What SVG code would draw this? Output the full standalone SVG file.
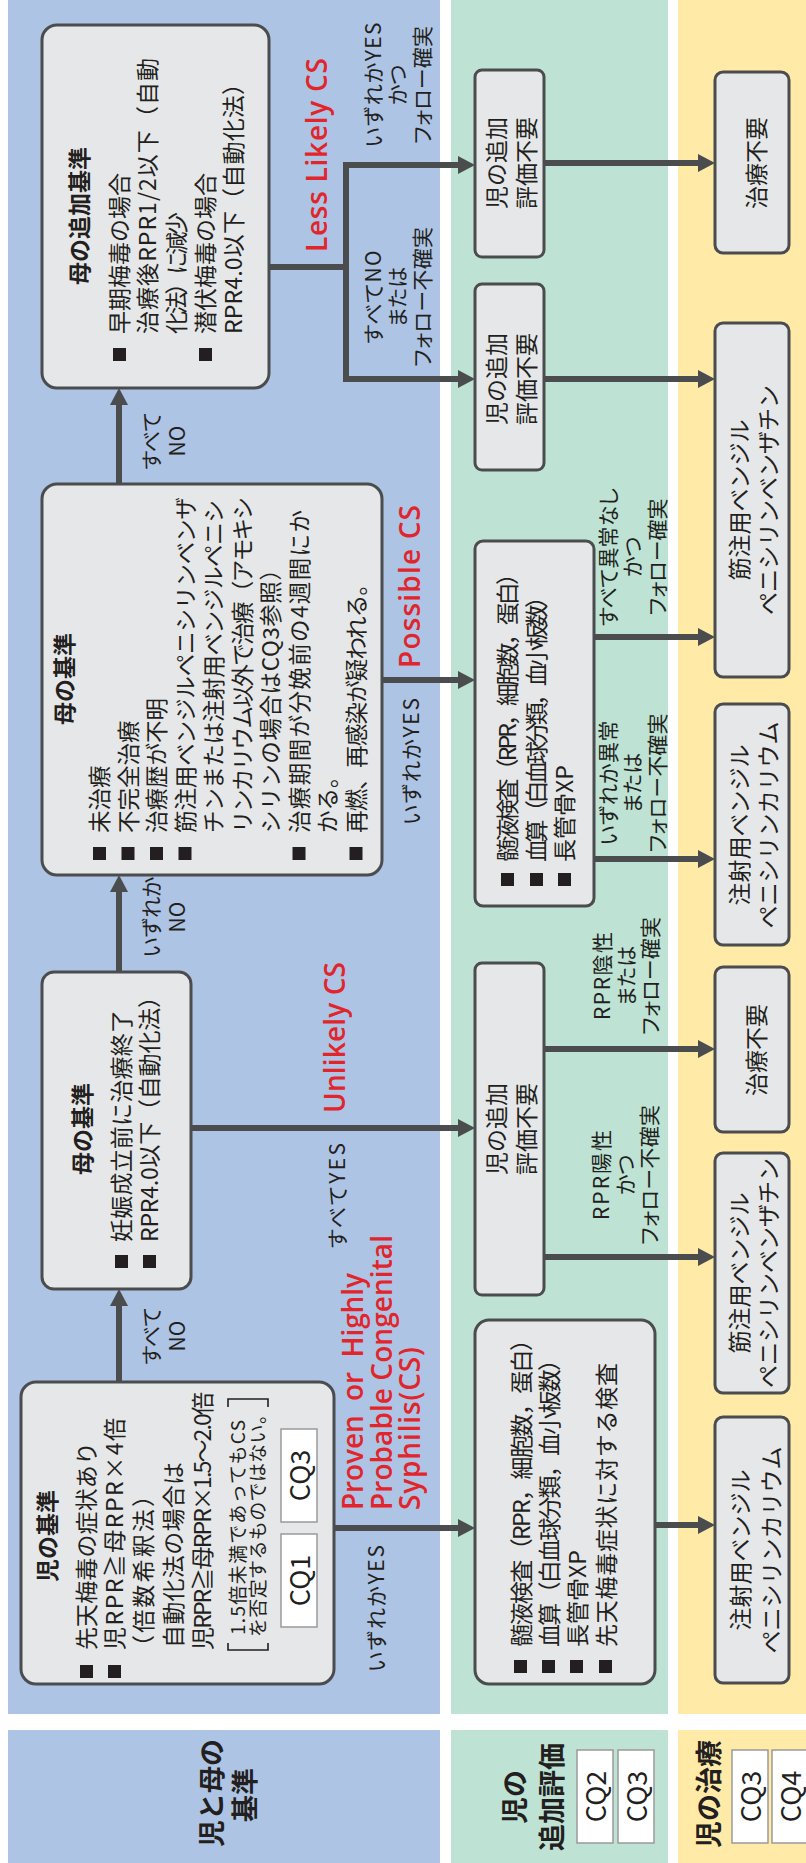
<svg xmlns="http://www.w3.org/2000/svg" width="806" height="1863" viewBox="0 0 806 1863">
<style>
.t{font-family:"Noto Sans CJK JP","Noto Sans CJK SC",sans-serif;fill:#231f20;font-size:23px}
.s22{font-size:22.5px}
.b{font-weight:700}
.m{text-anchor:middle}
.e{text-anchor:end}
.lb{font-size:21px;font-feature-settings:"palt"}
.sm{font-size:19px}
.cqt{font-family:"Noto Sans CJK JP",sans-serif;font-size:27px;fill:#231f20;text-anchor:middle}
.hd{font-size:27px;font-weight:700}
.red{font-family:"Open Sans","Noto Sans",sans-serif;font-weight:600;fill:#e0262c;font-size:28px}
.node{fill:#e6e7e8;stroke:#4b4c4e;stroke-width:3}
.cq{fill:#fff;stroke:#9a9a9a;stroke-width:1.5}
.conn{stroke:#4b4c4e;stroke-width:6;fill:none}
.bul{fill:#231f20}
.brk{fill:none;stroke:#231f20;stroke-width:1.6}
</style>
<defs>
<marker id="ah" markerUnits="userSpaceOnUse" markerWidth="18" markerHeight="18" refX="7" refY="9" orient="auto-start-reverse">
<path d="M0,0 L17,9 L0,18 Z" fill="#4b4c4e"/>
</marker>
</defs>
<g id="diagram" transform="translate(0,1863) rotate(-90)">
<g id="bands">
<rect x="149" y="8" width="1714" height="432" fill="#aec4e4"/>
<rect x="149" y="451" width="1714" height="217" fill="#bee2d4"/>
<rect x="149" y="678" width="1714" height="128" fill="#ffeba7"/>
<rect x="0" y="8" width="133" height="432" fill="#aec4e4"/>
<rect x="0" y="451" width="133" height="217" fill="#bee2d4"/>
<rect x="0" y="678" width="133" height="128" fill="#ffeba7"/>
</g>
<g id="headers">
<text class="t hd m" x="70" y="222">児と母の</text>
<text class="t hd m" x="68" y="255">基準</text>
<text class="t hd m" x="66" y="525">児の</text>
<text class="t hd m" x="66" y="562">追加評価</text>
<rect class="cq" x="20" y="577" width="93" height="36"/>
<text class="cqt" x="66.5" y="606">CQ2</text>
<rect class="cq" x="20" y="618" width="93" height="36"/>
<text class="cqt" x="66.5" y="647">CQ3</text>
<text class="t hd m" x="69" y="719">児の治療</text>
<rect class="cq" x="20" y="732" width="93" height="36"/>
<text class="cqt" x="66.5" y="761">CQ3</text>
<rect class="cq" x="20" y="772" width="93" height="36"/>
<text class="cqt" x="66.5" y="801">CQ4</text>
</g>
<g id="connectors">
<path class="conn" d="M481,119 H564" marker-end="url(#ah)"/>
<path class="conn" d="M891,119 H978" marker-end="url(#ah)"/>
<path class="conn" d="M1379,119 H1465" marker-end="url(#ah)"/>
<path class="conn" d="M1596,269 V346"/>
<path class="conn" d="M1698,465 V346 H1484 V465" marker-start="url(#ah)" marker-end="url(#ah)"/>
<path class="conn" d="M1700,544 V705" marker-end="url(#ah)"/>
<path class="conn" d="M1484,544 V705" marker-end="url(#ah)"/>
<path class="conn" d="M1183,382 V465" marker-end="url(#ah)"/>
<path class="conn" d="M1226,594 V705" marker-end="url(#ah)"/>
<path class="conn" d="M1004,594 V705" marker-end="url(#ah)"/>
<path class="conn" d="M735,191 V465" marker-end="url(#ah)"/>
<path class="conn" d="M814,544 V705" marker-end="url(#ah)"/>
<path class="conn" d="M606,544 V705" marker-end="url(#ah)"/>
<path class="conn" d="M335,334 V465" marker-end="url(#ah)"/>
<path class="conn" d="M338,655 V705" marker-end="url(#ah)"/>
</g>
<g id="labels">
<text class="t lb m" x="1422" y="159">すべて</text>
<text class="t lb m" x="1422" y="185">NO</text>
<text class="t lb m" x="946" y="159">いずれか</text>
<text class="t lb m" x="946" y="185">NO</text>
<text class="t lb m" x="527" y="159">すべて</text>
<text class="t lb m" x="527" y="185">NO</text>
<text class="t lb m" x="1778" y="381" textLength="125">いずれかYES</text>
<text class="t lb m" x="1778" y="405">かつ</text>
<text class="t lb m" x="1778" y="430" textLength="118">フォロー確実</text>
<text class="t lb m" x="1566" y="381" textLength="93">すべてNO</text>
<text class="t lb m" x="1566" y="405">または</text>
<text class="t lb m" x="1566" y="430" textLength="140">フォロー不確実</text>
<text class="t lb e" x="1165" y="419" textLength="127">いずれかYES</text>
<text class="t lb e" x="720" y="345" textLength="105">すべてYES</text>
<text class="t lb e" x="318" y="384" textLength="127">いずれかYES</text>
<text class="t lb m" x="1306" y="616" textLength="138">すべて異常なし</text>
<text class="t lb m" x="1306" y="640">かつ</text>
<text class="t lb m" x="1306" y="665" textLength="117">フォロー確実</text>
<text class="t lb m" x="1080" y="616" textLength="125">いずれか異常</text>
<text class="t lb m" x="1080" y="640">または</text>
<text class="t lb m" x="1080" y="665" textLength="139">フォロー不確実</text>
<text class="t lb m" x="887" y="610" textLength="88">RPR陰性</text>
<text class="t lb m" x="887" y="634">または</text>
<text class="t lb m" x="887" y="658" textLength="118">フォロー確実</text>
<text class="t lb m" x="688" y="609" textLength="90">RPR陽性</text>
<text class="t lb m" x="688" y="633">かつ</text>
<text class="t lb m" x="688" y="657" textLength="140">フォロー不確実</text>
<text class="red" x="1611" y="327" textLength="194">Less Likely CS</text>
<text class="red" x="1195" y="420" textLength="163">Possible CS</text>
<text class="red" x="750" y="345" textLength="151">Unlikely CS</text>
<text class="red" x="353" y="363" textLength="237" xml:space="preserve">Proven  or  Highly</text>
<text class="red" x="353" y="392" textLength="275">Probable Congenital</text>
<text class="red" x="353" y="420" textLength="163">Syphilis(CS)</text>
</g>
<g id="node-A">
<rect class="node" x="1475" y="42" width="363" height="227" rx="15"/>
<text class="t b m" x="1647" y="88">母の追加基準</text>
<rect class="bul" x="1502" y="113" width="13" height="13"/>
<text class="t" x="1529" y="128">早期梅毒の場合</text>
<text class="t" x="1529" y="156" textLength="276">治療後RPR1/2以下（自動</text>
<text class="t" x="1529" y="185" textLength="122">化法）に減少</text>
<rect class="bul" x="1502" y="199" width="13" height="13"/>
<text class="t" x="1529" y="214">潜伏梅毒の場合</text>
<text class="t" x="1529" y="242" textLength="262">RPR4.0以下（自動化法）</text>
</g>
<g id="node-B">
<rect class="node" x="988" y="42" width="391" height="340" rx="15"/>
<text class="t b m" x="1184" y="73">母の基準</text>
<rect class="bul" x="1003" y="93" width="13" height="13"/>
<text class="t s22" x="1030" y="108">未治療</text>
<rect class="bul" x="1003" y="121.5" width="13" height="13"/>
<text class="t s22" x="1030" y="136.5">不完全治療</text>
<rect class="bul" x="1003" y="150" width="13" height="13"/>
<text class="t s22" x="1030" y="165">治療歴が不明</text>
<rect class="bul" x="1003" y="178.5" width="13" height="13"/>
<text class="t s22" x="1030" y="193.5" textLength="336">筋注用ベンジルペニシリンベンザ</text>
<text class="t s22" x="1030" y="222" textLength="333">チンまたは注射用ベンジルペニシ</text>
<text class="t s22" x="1030" y="250.5" textLength="336">リンカリウム以外で治療（アモキシ</text>
<text class="t s22" x="1030" y="279" textLength="275">シリンの場合はCQ3参照）</text>
<rect class="bul" x="1003" y="292.5" width="13" height="13"/>
<text class="t s22" x="1030" y="307.5" textLength="323">治療期間が分娩前の4週間にか</text>
<text class="t s22" x="1030" y="336">かる。</text>
<rect class="bul" x="1003" y="349.5" width="13" height="13"/>
<text class="t s22" x="1030" y="364.5" textLength="260">再燃、再感染が疑われる。</text>
</g>
<g id="node-C">
<rect class="node" x="574" y="42" width="317" height="149" rx="12"/>
<text class="t b m" x="734" y="91">母の基準</text>
<rect class="bul" x="595" y="115" width="13" height="13"/>
<text class="t" x="621" y="130" textLength="232">妊娠成立前に治療終了</text>
<rect class="bul" x="595" y="143" width="13" height="13"/>
<text class="t" x="621" y="158" textLength="257">RPR4.0以下（自動化法）</text>
</g>
<g id="node-D">
<rect class="node" x="179" y="21" width="302" height="313" rx="15"/>
<text class="t b m" x="327" y="56">児の基準</text>
<rect class="bul" x="185" y="80" width="13" height="13"/>
<text class="t" x="213" y="95" textLength="208">先天梅毒の症状あり</text>
<rect class="bul" x="185" y="108" width="13" height="13"/>
<text class="t" x="213" y="123" textLength="232">児RPR≧母RPR×4倍</text>
<text class="t" x="205" y="152" textLength="174">（倍数希釈法）</text>
<text class="t" x="215" y="182" textLength="186">自動化法の場合は</text>
<text class="t" x="213" y="211" textLength="258">児RPR≧母RPR×1.5～2.0倍</text>
<polyline class="brk" points="220,228 213,228 213,268 220,268"/>
<text class="t sm" x="228" y="245" textLength="215">1.5倍未満であってもCS</text>
<text class="t sm" x="226" y="265" textLength="232">を否定するものではない。</text>
<polyline class="brk" points="456,228 464,228 464,268 456,268"/>
<rect class="cq" x="236" y="281" width="93" height="36"/>
<text class="cqt" x="282.5" y="310">CQ1</text>
<rect class="cq" x="341" y="281" width="93" height="36"/>
<text class="cqt" x="387.5" y="310">CQ3</text>
</g>
<g id="node-E">
<rect class="node" x="1606" y="475" width="187" height="69" rx="7"/>
<text class="t m" x="1700" y="505">児の追加</text>
<text class="t m" x="1700" y="535">評価不要</text>
</g>
<g id="node-F">
<rect class="node" x="1393" y="475" width="186" height="69" rx="7"/>
<text class="t m" x="1484" y="505">児の追加</text>
<text class="t m" x="1484" y="535">評価不要</text>
</g>
<g id="node-I">
<rect class="node" x="957" y="475" width="365" height="119" rx="8"/>
<rect class="bul" x="977" y="501" width="13" height="13"/>
<text class="t" x="1001" y="516" textLength="300">髄液検査（RPR，細胞数，蛋白）</text>
<rect class="bul" x="977" y="530" width="13" height="13"/>
<text class="t" x="1001" y="545" textLength="277">血算（白血球分類，血小板数）</text>
<rect class="bul" x="977" y="558" width="13" height="13"/>
<text class="t" x="1001" y="573">長管骨XP</text>
</g>
<g id="node-L">
<rect class="node" x="568" y="475" width="332" height="69" rx="7"/>
<text class="t m" x="734" y="505">児の追加</text>
<text class="t m" x="734" y="535">評価不要</text>
</g>
<g id="node-O">
<rect class="node" x="179" y="475" width="364" height="180" rx="14"/>
<rect class="bul" x="190" y="514" width="13" height="13"/>
<text class="t" x="216" y="530" textLength="319">髄液検査（RPR，細胞数，蛋白）</text>
<rect class="bul" x="190" y="542" width="13" height="13"/>
<text class="t" x="216" y="558" textLength="299">血算（白血球分類，血小板数）</text>
<rect class="bul" x="190" y="570" width="13" height="13"/>
<text class="t" x="216" y="586">長管骨XP</text>
<rect class="bul" x="190" y="599" width="13" height="13"/>
<text class="t" x="216" y="615" textLength="284">先天梅毒症状に対する検査</text>
</g>
<g id="node-G">
<rect class="node" x="1610" y="715" width="181" height="74" rx="8"/>
<text class="t m" x="1700" y="765">治療不要</text>
</g>
<g id="node-H">
<rect class="node" x="1186" y="715" width="354" height="74" rx="8"/>
<text class="t m" x="1363" y="748">筋注用ベンジル</text>
<text class="t m" x="1363" y="777">ペニシリンベンザチン</text>
</g>
<g id="node-K">
<rect class="node" x="918" y="715" width="241" height="74" rx="8"/>
<text class="t m" x="1038" y="748">注射用ベンジル</text>
<text class="t m" x="1038" y="777">ペニシリンカリウム</text>
</g>
<g id="node-M">
<rect class="node" x="731" y="715" width="165" height="74" rx="8"/>
<text class="t m" x="813" y="765">治療不要</text>
</g>
<g id="node-N">
<rect class="node" x="470" y="715" width="240" height="74" rx="8"/>
<text class="t m" x="590" y="748">筋注用ベンジル</text>
<text class="t m" x="590" y="777">ペニシリンベンザチン</text>
</g>
<g id="node-P">
<rect class="node" x="180" y="715" width="266" height="74" rx="8"/>
<text class="t m" x="313" y="749">注射用ベンジル</text>
<text class="t m" x="313" y="780">ペニシリンカリウム</text>
</g>
</g>
</svg>
